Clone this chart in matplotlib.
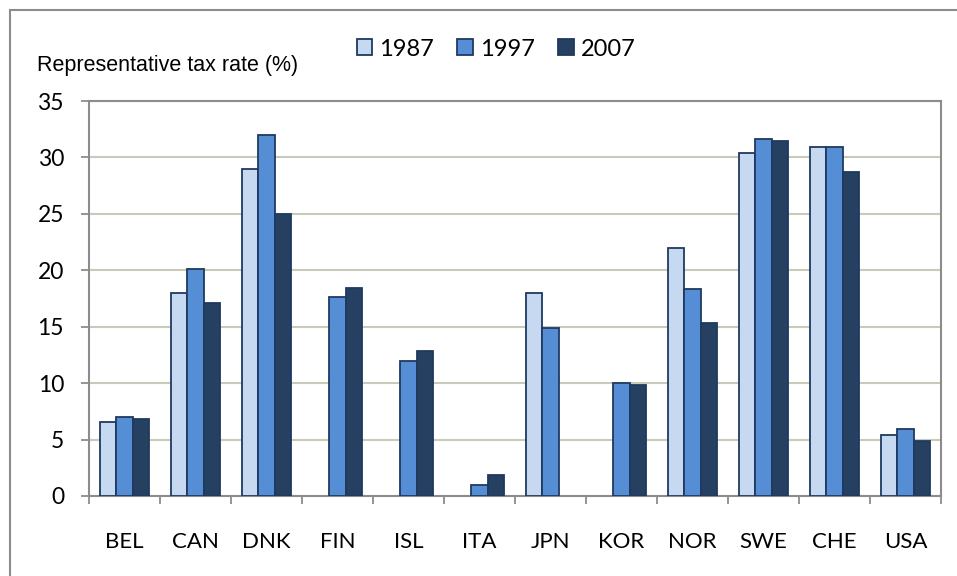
import numpy as np
import matplotlib
matplotlib.use("Agg")
import matplotlib.pyplot as plt
from matplotlib.patches import Rectangle

# --- DATA --- (nan = no bar shown)
countries = ["BEL", "CAN", "DNK", "FIN", "ISL", "ITA", "JPN", "KOR", "NOR", "SWE", "CHE", "USA"]
years = ["1987", "1997", "2007"]
nan = np.nan
rate_1987 = [6.6, 18.0, 29.0, nan, nan, nan, 18.0, nan, 22.0, 30.4, 30.9, 5.4]
rate_1997 = [7.0, 20.1, 32.0, 17.6, 12.0, 0.95, 14.9, 10.0, 18.3, 31.6, 30.9, 5.9]
rate_2007 = [6.85, 17.1, 25.0, 18.4, 12.85, 1.85, nan, 9.8, 15.3, 31.5, 28.7, 4.9]

# --- STYLE ---
fills = ["#C6D9F1", "#558ED5", "#254061"]
edge = "#1F3A60"
grid_col = "#C8CBB8"
axis_col = "#8C8C8C"
plt.rcParams['font.family'] = ['Liberation Sans', 'DejaVu Sans']

fig = plt.figure(figsize=(9.57, 5.76), dpi=100)
ax = fig.add_axes([89 / 957, 80 / 576, 852 / 957, 395 / 576])

x = np.arange(len(countries))
w = 0.23
for i, (vals, yr) in enumerate(zip([rate_1987, rate_1997, rate_2007], years)):
    ax.bar(x + (i - 1) * w, vals, width=w, color=fills[i], edgecolor=edge,
           linewidth=1.3, label=yr, zorder=3)

ax.set_xlim(-0.5, len(countries) - 0.5)
ax.set_ylim(0, 35)
ax.set_yticks(range(0, 36, 5))
ax.yaxis.grid(True, color=grid_col, linewidth=1.5, zorder=0)
ax.set_axisbelow(True)

ax.set_xticks(x)
ax.set_xticklabels(countries, fontsize=16, family=['Lato', 'DejaVu Sans'])
ax.set_xticks(np.arange(-0.5, len(countries)), minor=True)
ax.tick_params(axis='x', which='major', length=0, pad=26)
ax.tick_params(axis='x', which='minor', length=6, color=axis_col, width=1.3)
ax.tick_params(axis='y', length=6, color=axis_col, width=1.3, pad=12, labelsize=16.5)
for lab in ax.get_yticklabels():
    lab.set_family(['Lato', 'DejaVu Sans'])

for s in ax.spines.values():
    s.set_color(axis_col)
    s.set_linewidth(1.5)

fig.text(37 / 957, 1 - 66 / 576, "Representative tax rate (%)", fontsize=15.5,
         ha='left', va='center')

leg = fig.legend(loc='center', bbox_to_anchor=(496 / 957, 1 - 49 / 576), ncol=3,
                 frameon=False, prop={'family': ['Lato', 'DejaVu Sans'], 'size': 17},
                 handlelength=0.65, handleheight=0.65,
                 handletextpad=0.3, columnspacing=1.0)

# outer chart border
fig.patches.append(Rectangle((9.5 / 957, -0.05), 1.2, 1 - 9.5 / 576 + 0.05,
                             transform=fig.transFigure, fill=False,
                             edgecolor=axis_col, linewidth=1.5))

fig.savefig("out.png", dpi=100)
